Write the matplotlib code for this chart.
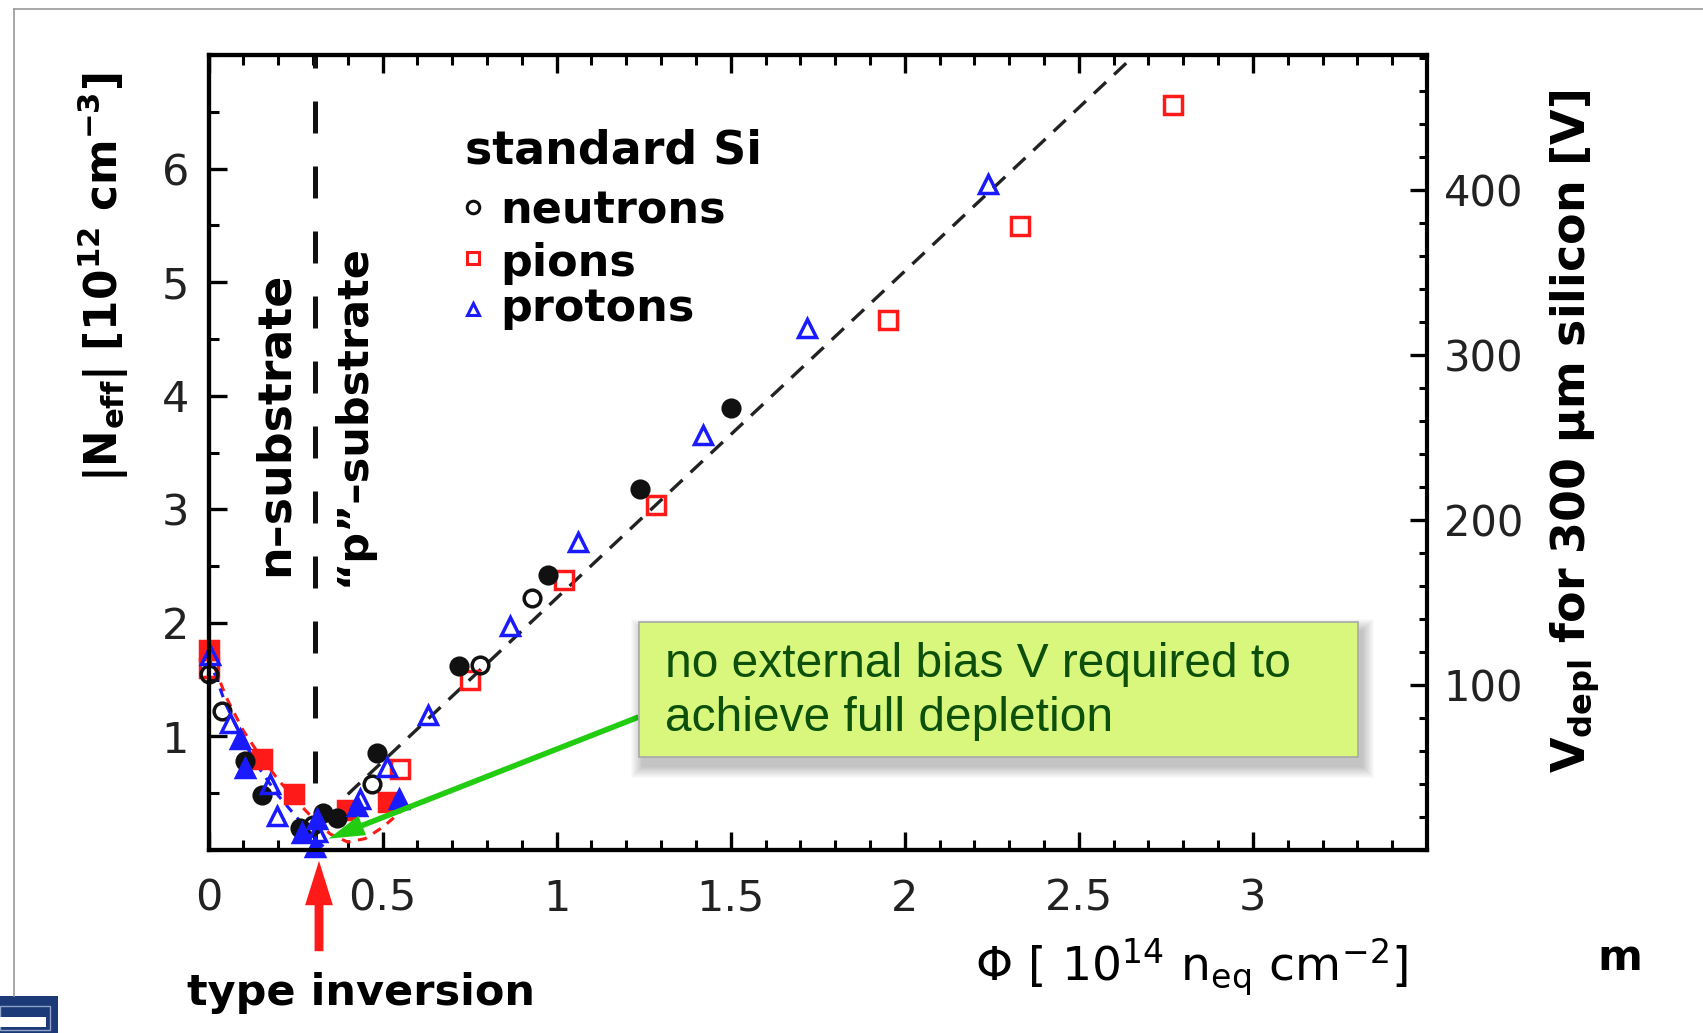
import matplotlib
matplotlib.use("Agg")
import matplotlib.pyplot as plt
from matplotlib.patches import Rectangle, FancyArrowPatch
from matplotlib.lines import Line2D
from matplotlib.ticker import MultipleLocator, FixedLocator, FuncFormatter

plt.rcParams["font.family"] = ["DejaVu Sans"]
plt.rcParams["mathtext.fontset"] = "dejavusans"
plt.rcParams["mathtext.default"] = "regular"

# ---- measurements: fluence [1e14 n_eq cm^-2] vs |N_eff| [1e12 cm^-3]
neutron_open_phi = [0.00, 0.038, 0.30, 0.47, 0.78, 0.93]
neutron_open_neff = [1.55, 1.22, 0.22, 0.58, 1.63, 2.22]
neutron_filled_phi = [0.105, 0.153, 0.263, 0.33, 0.37, 0.484, 0.719, 0.975, 1.24, 1.50]
neutron_filled_neff = [0.78, 0.48, 0.19, 0.33, 0.28, 0.85, 1.62, 2.42, 3.18, 3.89]

pion_open_phi = [0.00, 0.551, 0.752, 1.022, 1.284, 1.953, 2.331, 2.769]
pion_open_neff = [1.60, 0.71, 1.50, 2.38, 3.04, 4.67, 5.49, 6.56]
pion_filled_phi = [0.00, 0.153, 0.245, 0.398, 0.517]
pion_filled_neff = [1.76, 0.80, 0.49, 0.35, 0.42]

proton_open_phi = [0.005, 0.062, 0.177, 0.196, 0.311, 0.436, 0.513, 0.63, 0.867, 1.06, 1.42, 1.72, 2.24]
proton_open_neff = [1.72, 1.12, 0.58, 0.30, 0.16, 0.45, 0.73, 1.19, 1.97, 2.71, 3.65, 4.60, 5.86]
proton_filled_phi = [0.091, 0.105, 0.27, 0.305, 0.311, 0.426, 0.546]
proton_filled_neff = [0.98, 0.72, 0.15, 0.03, 0.27, 0.39, 0.45]

# model curves
pion_fit_phi = [0.0, 0.05, 0.10, 0.15, 0.20, 0.25, 0.30, 0.35, 0.40, 0.45, 0.50, 0.55]
pion_fit_neff = [1.75, 1.35, 1.05, 0.82, 0.62, 0.44, 0.28, 0.14, 0.07, 0.10, 0.20, 0.33]
proton_fit_phi = [0.0, 0.05, 0.10, 0.15, 0.20, 0.25, 0.30, 0.33]
proton_fit_neff = [1.70, 1.28, 0.96, 0.70, 0.48, 0.30, 0.12, 0.03]
linear_fit_phi = [0.40, 2.72]
linear_fit_neff = [0.49, 7.17]

type_inversion_phi = 0.305
volts_per_neff = 68.8          # V_depl for 300 um per 1e12 cm^-3

x_ticks = [0, 0.5, 1, 1.5, 2, 2.5, 3]
y_ticks = [1, 2, 3, 4, 5, 6]
v_ticks = [100, 200, 300, 400]

W, H, DPI = 1703, 1033, 100
fig = plt.figure(figsize=(W / DPI, H / DPI), dpi=DPI)
fig.patch.set_facecolor("white")


def fx(x):
    return x / W


def fy(y):
    return 1 - y / H


def label(x, y, s, **kw):
    return fig.text(fx(x), fy(y), s, **kw)


ax = fig.add_axes([fx(208.5), fy(850), fx(1427) - fx(208.5), fy(55) - fy(850)])
ax.set_xlim(0, 3.5)
ax.set_ylim(0, 7)

RED = "#ff1a1a"
BLUE = "#1a1aff"
BLACK = "#111111"

# fits
ax.plot(pion_fit_phi, pion_fit_neff, color=RED, lw=2.2, dashes=(3, 2.5), zorder=2)
ax.plot(proton_fit_phi, proton_fit_neff, color=BLUE, lw=2.2, dashes=(3, 2.5), zorder=2)
ax.plot(linear_fit_phi, linear_fit_neff, color="#222222", lw=2.4, dashes=(5, 3.3), zorder=2)
ax.axvline(type_inversion_phi, color=BLACK, lw=3.6, linestyle=(12.6, (6.4, 6.6)), zorder=2)

mk = dict(ls="none", mew=2.5, zorder=3, clip_on=False)
ax.plot(pion_open_phi, pion_open_neff, marker="s", ms=13, mfc="none", mec=RED, **mk)
ax.plot(pion_filled_phi, pion_filled_neff, marker="s", ms=13, mfc=RED, mec=RED, **mk)
ax.plot(neutron_open_phi, neutron_open_neff, marker="o", ms=12, mfc="none", mec=BLACK, **mk)
ax.plot(neutron_filled_phi, neutron_filled_neff, marker="o", ms=12, mfc=BLACK, mec=BLACK, **mk)
ax.plot(proton_open_phi, proton_open_neff, marker="^", ms=13, mfc="none", mec=BLUE, **mk)
ax.plot(proton_filled_phi, proton_filled_neff, marker="^", ms=13, mfc=BLUE, mec=BLUE, **mk)

# axes styling
for sp in ax.spines.values():
    sp.set_linewidth(3)
ax.spines["right"].set_visible(False)
ax.xaxis.set_major_locator(FixedLocator(x_ticks))
ax.xaxis.set_minor_locator(MultipleLocator(0.1))
ax.xaxis.set_major_formatter(FuncFormatter(lambda v, p: f"{v:g}"))
ax.yaxis.set_major_locator(FixedLocator(y_ticks))
ax.yaxis.set_minor_locator(MultipleLocator(0.5))
ax.yaxis.set_major_formatter(FuncFormatter(lambda v, p: f"{v:g}"))
ax.tick_params(axis="x", which="both", direction="in", top=True, bottom=True)
ax.tick_params(axis="y", which="both", direction="in", left=True, right=False)
ax.tick_params(which="major", length=13, width=2.4)
ax.tick_params(which="minor", length=7, width=2.2)
ax.tick_params(axis="x", labelsize=31, pad=20, labelcolor="#222222")
ax.tick_params(axis="y", labelsize=31, pad=14, labelcolor="#222222")

ax2 = ax.twinx()
ax2.set_ylim(0, 7 * volts_per_neff)
for sp in ax2.spines.values():
    sp.set_linewidth(3)
ax2.yaxis.set_major_locator(FixedLocator(v_ticks))
ax2.yaxis.set_minor_locator(MultipleLocator(20))
ax2.tick_params(axis="y", which="both", direction="in")
ax2.tick_params(which="major", length=12, width=2.4)
ax2.tick_params(which="minor", length=6, width=2.2)
ax2.tick_params(axis="y", labelsize=30, pad=12, labelcolor="#222222")

# axis titles
label(103, 277, r"$\mathbf{|N_{eff}|\ [10^{12}\ cm^{-3}]}$", rotation=90,
      ha="center", va="center", fontsize=31.5)
label(1575, 431, r"$\mathbf{V_{depl}\ for\ 300\ \mu m\ silicon\ [V]}$", rotation=90,
      ha="center", va="center", fontsize=33)
label(975, 981, r"$\Phi\ [\ 10^{14}\ n_{eq}\ cm^{-2}]$", ha="left", va="baseline",
      fontsize=34)
label(1597, 970, "m", ha="left", va="baseline", fontsize=31, fontweight="bold")
label(187, 1005, "type inversion", ha="left", va="baseline", fontsize=31,
      fontweight="bold")

# region labels
label(275, 424, "n–substrate", rotation=90, ha="center", va="center",
      fontsize=33, fontweight="bold")
label(353, 415, "“p”–substrate", rotation=90, ha="center", va="center",
      fontsize=31, fontweight="bold")

# legend
label(465, 163, "standard Si", ha="left", va="baseline", fontsize=33,
      fontweight="bold")
legend_rows = [("neutrons", "o", BLACK, 223, 207), ("pions", "s", RED, 276, 258),
               ("protons", "^", BLUE, 321, 309)]
for name, m, c, base, my in legend_rows:
    label(500, base, name, ha="left", va="baseline", fontsize=32, fontweight="bold")
    fig.add_artist(Line2D([fx(473.5)], [fy(my)], marker=m, ms=9, mfc="none",
                          mec=c, mew=2.2, ls="none"))

# type inversion arrow
fig.add_artist(FancyArrowPatch((fx(319), fy(954)), (fx(319), fy(858)),
                               transform=fig.transFigure,
                               arrowstyle="simple,head_length=1.6,head_width=1.0,tail_width=0.32",
                               mutation_scale=20, color=RED, lw=0))

# annotation box with shadow
bx0, bx1, by0, by1 = 638.6, 1357.5, 622, 757
for s in range(12, 0, -1):
    fig.add_artist(Rectangle((fx(bx0 + 4 - s), fy(by1 + 9 + s)),
                             (bx1 - bx0 + 2 * s) / W, (by1 - by0 + 2 * s) / H,
                             transform=fig.transFigure, fc="#000000", ec="none",
                             alpha=0.018, zorder=5))
fig.add_artist(Rectangle((fx(bx0), fy(by1)), (bx1 - bx0) / W, (by1 - by0) / H,
                         transform=fig.transFigure, fc="#d8f77c", ec="#a8a8a8",
                         lw=1.2, zorder=6))
for line, base in [("no external bias V required to", 677),
                   ("achieve full depletion", 731)]:
    t = label(665, base, line, ha="left", va="baseline", fontsize=34.5,
              family=["Liberation Sans", "DejaVu Sans"], color="#0c500c")
    t.set_zorder(7)

ax.annotate("", xy=(0.345, 0.10), xycoords="data",
            xytext=(fx(bx0), fy(717)), textcoords="figure fraction",
            arrowprops=dict(arrowstyle="simple,head_length=1.3,head_width=0.75,tail_width=0.2",
                            mutation_scale=20, color="#22cc11", lw=0,
                            shrinkA=0, shrinkB=0),
            annotation_clip=False, zorder=8)

# slide frame and corner icon
fig.add_artist(Line2D([fx(14), 1], [fy(9), fy(9)], color="#9a9a9a", lw=1.2))
fig.add_artist(Line2D([fx(14), fx(14)], [fy(9), fy(996)], color="#9a9a9a", lw=1.2))
fig.add_artist(Rectangle((0, 0), fx(58), 37 / H, transform=fig.transFigure,
                         fc="#1c3a78", ec="none"))
fig.add_artist(Rectangle((0, fy(1030)), fx(50), 24 / H, transform=fig.transFigure,
                         fc="none", ec="#8fa3c8", lw=1.0))
fig.add_artist(Rectangle((0, fy(1027)), fx(46), 10 / H, transform=fig.transFigure,
                         fc="white", ec="none"))

fig.savefig("out.png", dpi=DPI)
